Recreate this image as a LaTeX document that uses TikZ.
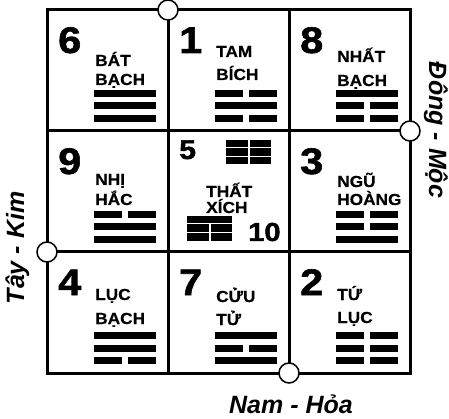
\documentclass[tikz,border=0pt]{standalone}
\usepackage{fontspec}
\setmainfont{Liberation Sans}
\newfontfamily\numfont[FakeStretch=1.12, BoldFeatures={FakeBold=1.6}]{Liberation Sans}
\newfontfamily\labfont[FakeStretch=1.08, BoldFeatures={FakeBold=0.4}]{Liberation Sans}
\newcommand\yangline[1]{\fill (47,#1) rectangle (109,#1+7);}
\newcommand\yinline[1]{\fill (47,#1) rectangle (75,#1+7); \fill (81,#1) rectangle (109,#1+7);}
\begin{document}
\begin{tikzpicture}[x=1pt,y=-1pt,
  cellbox/.style={draw, line width=3pt, minimum size=121pt, inner sep=0pt, outer sep=0pt, anchor=north west},
  port/.style={circle, draw, fill=white, line width=1.5pt, minimum size=20pt, inner sep=0pt},
  num/.style={anchor=base west, inner sep=0pt, font=\numfont\bfseries\fontsize{37}{37}\selectfont},
  lab/.style={anchor=base west, inner sep=0pt, font=\labfont\bfseries\fontsize{16}{16}\selectfont},
  side/.style={anchor=base, inner sep=0pt, font=\bfseries\itshape\fontsize{25}{25}\selectfont},
]
\useasboundingbox (0,0) rectangle (449,419);
% grid cells
\node[cellbox] (c6) at (47,10) {};
\node[cellbox] (c1) at (168,10) {};
\node[cellbox] (c8) at (289,10) {};
\node[cellbox] (c9) at (47,131) {};
\node[cellbox] (c5) at (168,131) {};
\node[cellbox] (c3) at (289,131) {};
\node[cellbox] (c4) at (47,252) {};
\node[cellbox] (c7) at (168,252) {};
\node[cellbox] (c2) at (289,252) {};

% cell 6
\begin{scope}[shift={(c6.north west)}]
 \node[num] (n6) at (11,43) {6};
 \node[lab] (l6a) at (48,56) {BÁT};
 \node[lab] (l6b) at (48,75) {BẠCH};
 \yangline{80}\yangline{92.5}\yangline{105}
\end{scope}
% cell 1
\begin{scope}[shift={(c1.north west)}]
 \node[num] (n1) at (11,43) {1};
 \node[lab] (l1a) at (48,47) {TAM};
 \node[lab] (l1b) at (48,70) {BÍCH};
 \yinline{80}\yangline{92.5}\yinline{105}
\end{scope}
% cell 8
\begin{scope}[shift={(c8.north west)}]
 \node[num] (n8) at (11,43) {8};
 \node[lab] (l8a) at (48,52) {NHẤT};
 \node[lab] (l8b) at (48,76) {BẠCH};
 \yangline{80}\yinline{92.5}\yinline{105}
\end{scope}
% cell 9
\begin{scope}[shift={(c9.north west)}]
 \node[num] (n9) at (11,43) {9};
 \node[lab] (l9a) at (48,54) {NHỊ};
 \node[lab] (l9b) at (48,74) {HẮC};
 \yinline{80}\yangline{92.5}\yangline{105}
\end{scope}
% cell 5
\begin{scope}[shift={(c5.north west)}]
 \node[num, font=\numfont\bfseries\fontsize{27}{27}\selectfont] (n5) at (11,28) {5};
 \fill (58,9) rectangle (80,16.5); \fill (82,9) rectangle (103,16.5);
 \fill (58,17.5) rectangle (80,25); \fill (82,17.5) rectangle (103,25);
 \fill (58,26) rectangle (80,33.5); \fill (82,26) rectangle (103,33.5);
 \node[lab] (l5a) at (38,66) {THẤT};
 \node[lab] (l5b) at (38,82) {XÍCH};
 \fill (19,85) rectangle (64,92.5);
 \fill (19,93.5) rectangle (41,101); \fill (43,93.5) rectangle (64,101);
 \fill (19,102) rectangle (41,110); \fill (43,102) rectangle (64,110);
 \node[num, font=\numfont\bfseries\fontsize{26}{26}\selectfont] (n10) at (80,110) {10};
\end{scope}
% cell 3
\begin{scope}[shift={(c3.north west)}]
 \node[num] (n3) at (11,43) {3};
 \node[lab] (l3a) at (48,56) {NGŨ};
 \node[lab] (l3b) at (48,74) {HOÀNG};
 \yinline{80}\yinline{92.5}\yangline{105}
\end{scope}
% cell 4
\begin{scope}[shift={(c4.north west)}]
 \node[num] (n4) at (11,43) {4};
 \node[lab] (l4a) at (48,48) {LỤC};
 \node[lab] (l4b) at (48,72) {BẠCH};
 \yangline{80}\yangline{92.5}\yinline{105}
\end{scope}
% cell 7
\begin{scope}[shift={(c7.north west)}]
 \node[num] (n7) at (11,43) {7};
 \node[lab] (l7a) at (48,50) {CỬU};
 \node[lab] (l7b) at (48,73) {TỬ};
 \yangline{80}\yinline{92.5}\yangline{105}
\end{scope}
% cell 2
\begin{scope}[shift={(c2.north west)}]
 \node[num] (n2) at (11,43) {2};
 \node[lab] (l2a) at (48,48) {TỨ};
 \node[lab] (l2b) at (48,71) {LỤC};
 \yinline{80}\yinline{92.5}\yinline{105}
\end{scope}

% ports
\node[port] (pn) at (c6.north east) {};
\node[port] (pe) at (c8.south east) {};
\node[port] (pw) at (c9.south west) {};
\node[port] (ps) at (c7.south east) {};

% direction labels
\node[side, rotate=90] (tw) at (24,248) {Tây - Kim};
\node[side, rotate=-90] (te) at (429,130) {Đông - Mộc};
\node[side] (ts) at (291,413) {Nam - Hỏa};
\end{tikzpicture}
\end{document}
